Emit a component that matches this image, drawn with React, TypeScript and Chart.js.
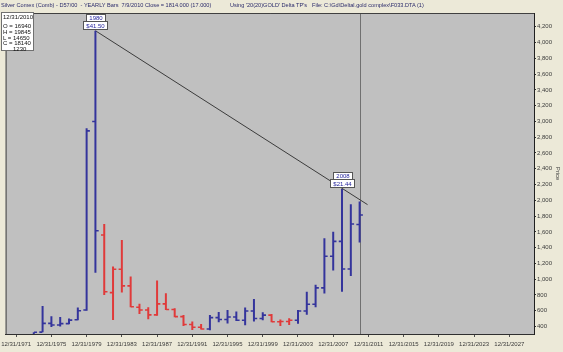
import React, { useEffect, useRef } from 'react';
import { Chart, registerables } from 'chart.js';

Chart.register(...registerables);

// ---- data (prices in cents) ----
const years = [1973, 1974, 1975, 1976, 1977, 1978, 1979, 1980, 1981, 1982, 1983, 1984, 1985, 1986, 1987, 1988, 1989, 1990, 1991, 1992, 1993, 1994, 1995, 1996, 1997, 1998, 1999, 2000, 2001, 2002, 2003, 2004, 2005, 2006, 2007, 2008, 2009, 2010];
const opens = [196, 329, 440, 420, 437, 485, 610, 3000, 1560, 830, 1126, 915, 645, 610, 547, 687, 615, 525, 425, 390, 369, 512, 489, 520, 479, 596, 502, 544, 461, 463, 480, 596, 682, 890, 1290, 1480, 1130, 1694];
const highs = [328, 660, 530, 520, 500, 640, 2913, 4150, 1700, 1160, 1497, 1033, 687, 645, 982, 822, 632, 547, 462, 433, 545, 585, 610, 590, 640, 750, 580, 560, 490, 505, 610, 840, 930, 1520, 1600, 2144, 1950, 1984.5];
const lows = [195, 327, 395, 400, 430, 480, 600, 1083, 800, 484, 830, 645, 560, 493, 535, 610, 518, 408, 357, 363, 352, 455, 437, 469, 416, 462, 480, 455, 405, 420, 435, 550, 645, 820, 1110, 840, 1040, 1465];
const closes = [328, 440, 420, 437, 481, 600, 2880, 1615, 840, 1126, 915, 650, 610, 547, 687, 615, 525, 425, 390, 369, 512, 489, 520, 479, 596, 502, 544, 461, 463, 480, 596, 682, 890, 1290, 1480, 1130, 1699, 1814];
const barColours = ['b', 'b', 'b', 'b', 'b', 'b', 'b', 'b', 'r', 'r', 'r', 'r', 'r', 'r', 'r', 'r', 'r', 'r', 'r', 'r', 'b', 'b', 'b', 'b', 'b', 'b', 'b', 'r', 'r', 'r', 'b', 'b', 'b', 'b', 'b', 'b', 'b', 'b'];

const yTicks = [400, 600, 800, 1000, 1200, 1400, 1600, 1800, 2000, 2200, 2400, 2600, 2800, 3000, 3200, 3400, 3600, 3800, 4000, 4200];
const xTicks = [1971, 1975, 1979, 1983, 1987, 1991, 1995, 1999, 2003, 2007, 2011, 2015, 2019, 2023, 2027];

const trendYears = [1980, 2010.9];
const trendValues = [4150, 1945];

const markedYears = [1980, 2008];
const markedYearLabels = ['1980', '2008'];
const markedPriceLabels = ['$41.50', '$21.44'];

const todayYear = 2010;

const infoLines = ['12/31/2010', 'O = 16940', 'H = 19845', 'L = 14650', 'C = 18140'];
const infoVolume = '1230';
const headerTitle = 'Silver Comex (Comb) - D57/00  - YEARLY Bars  7/9/2010 Close = 1814.000 (17.000)';
const headerUsing = "Using '20(20)GOLD' Delta TP's";
const headerFile = 'File: C:\\Gd\\Deltal.gold complex\\F033.DTA (1)';

const COLOURS: Record<string, string> = { b: '#34349c', r: '#e03a3a' };
const FONT = 'Liberation Sans, Arial, sans-serif';

function buildDatasets() {
  const ds: any[] = [];
  (['b', 'r'] as const).forEach((c) => {
    const range: any[] = [];
    const op: any[] = [];
    const cl: any[] = [];
    years.forEach((yr, i) => {
      if (barColours[i] !== c) return;
      range.push({ x: yr, y: lows[i] }, { x: yr, y: highs[i] }, { x: yr, y: null });
      op.push({ x: yr - 0.2, y: opens[i] });
      cl.push({ x: yr + 0.2, y: closes[i] });
    });
    ds.push({
      type: 'line', data: range, borderColor: COLOURS[c], borderWidth: 2,
      pointRadius: 0, showLine: true, spanGaps: false, fill: false,
    });
    ds.push({
      type: 'scatter', data: op, pointStyle: 'line', pointRadius: 1.5,
      pointBorderWidth: 1.6, pointBorderColor: COLOURS[c], showLine: false,
    });
    ds.push({
      type: 'scatter', data: cl, pointStyle: 'line', pointRadius: 1.5,
      pointBorderWidth: 1.6, pointBorderColor: COLOURS[c], showLine: false,
    });
  });
  ds.push({
    type: 'line',
    data: trendYears.map((x, i) => ({ x, y: trendValues[i] })),
    borderColor: '#3c3c3c', borderWidth: 1, pointRadius: 0, showLine: true, fill: false,
  });
  return ds;
}

const decorPlugin = {
  id: 'decor',
  beforeDraw(chart: any) {
    const { ctx, chartArea: a } = chart;
    ctx.save();
    ctx.fillStyle = '#ece9d8';
    ctx.fillRect(0, 0, chart.width, chart.height);
    ctx.fillStyle = '#c0c0c0';
    ctx.fillRect(a.left, a.top, a.right - a.left, a.bottom - a.top);
    ctx.restore();
  },
  beforeDatasetsDraw(chart: any) {
    const { ctx, chartArea: a, scales } = chart;
    const x = Math.round(scales.x.getPixelForValue(todayYear)) + 0.5;
    ctx.save();
    ctx.strokeStyle = '#707070';
    ctx.lineWidth = 1;
    ctx.beginPath();
    ctx.moveTo(x, a.top);
    ctx.lineTo(x, a.bottom);
    ctx.stroke();
    ctx.strokeStyle = '#404040';
    ctx.beginPath();
    ctx.moveTo(a.left + 0.5, a.bottom);
    ctx.lineTo(a.left + 0.5, a.top + 0.5);
    ctx.lineTo(a.right, a.top + 0.5);
    ctx.stroke();
    ctx.restore();
  },
  afterDatasetsDraw(chart: any) {
    const { ctx, scales } = chart;
    ctx.save();
    ctx.font = `6px ${FONT}`;
    ctx.textAlign = 'center';
    ctx.textBaseline = 'middle';
    markedYears.forEach((yr, k) => {
      const i = years.indexOf(yr);
      const px = scales.x.getPixelForValue(yr);
      const py = scales.y.getPixelForValue(highs[i]);
      const box = (text: string, bottom: number, h: number) => {
        const w = Math.ceil(ctx.measureText(text).width) + 5;
        const left = Math.round(px - w / 2) + 0.5;
        const top = Math.round(bottom - h) + 0.5;
        ctx.fillStyle = '#ffffff';
        ctx.fillRect(left, top, w, h);
        ctx.strokeStyle = '#555555';
        ctx.lineWidth = 1;
        ctx.strokeRect(left, top, w, h);
        ctx.fillStyle = '#1e1e9a';
        ctx.fillText(text, left + w / 2, top + h / 2 + 0.5);
        return top;
      };
      const t = box(markedPriceLabels[k], py - 2, 8);
      box(markedYearLabels[k], t - 0.5, 7);
    });
    ctx.restore();
  },
};

export default function App() {
  const ref = useRef<HTMLCanvasElement>(null);
  useEffect(() => {
    if (!ref.current) return;
    const chart = new Chart(ref.current, {
      type: 'scatter',
      data: { datasets: buildDatasets() },
      plugins: [decorPlugin],
      options: {
        animation: false,
        responsive: false,
        devicePixelRatio: 1,
        layout: { padding: { top: 13, left: 3, right: 0, bottom: 0 } },
        plugins: { legend: { display: false }, tooltip: { enabled: false } },
        scales: {
          x: {
            type: 'linear', position: 'bottom', min: 1969.8, max: 2029.8,
            afterBuildTicks: (s: any) => { s.ticks = xTicks.map((v) => ({ value: v })); },
            afterFit: (s: any) => { s.height = 18; s.paddingLeft = 0; s.paddingRight = 0; },
            ticks: {
              autoSkip: false, maxRotation: 0, padding: 4, color: '#3a3a3a',
              font: { size: 6, family: FONT },
              callback: (v: any) => '12/31/' + v,
            },
            grid: { drawOnChartArea: false, tickLength: 3, color: '#505050' },
            border: { color: '#303030', width: 1 },
          },
          y: {
            type: 'linear', position: 'right', min: 305, max: 4375,
            afterBuildTicks: (s: any) => { s.ticks = yTicks.map((v) => ({ value: v })); },
            afterFit: (s: any) => { s.width = 29; s.paddingTop = 0; s.paddingBottom = 0; },
            ticks: {
              autoSkip: false, padding: 1, color: '#3a3a3a',
              font: { size: 6, family: FONT },
              callback: (v: any) => Number(v).toLocaleString('en-US'),
            },
            grid: { drawOnChartArea: false, tickLength: 2, color: '#303030' },
            border: { color: '#202020', width: 1 },
            title: {
              display: true, text: 'Price', color: '#3a3a3a',
              font: { size: 6, family: FONT }, padding: { top: 2, bottom: 0 },
            },
          },
        },
      } as any,
    });
    return () => chart.destroy();
  }, []);

  const small: React.CSSProperties = {
    position: 'absolute', fontFamily: FONT, fontSize: '5.6px', lineHeight: '6px',
    color: '#2b2b6b', whiteSpace: 'pre',
  };

  return (
    <div style={{ position: 'fixed', left: 0, top: 0, width: 563, height: 352, background: '#ece9d8', overflow: 'hidden' }}>
      <canvas ref={ref} width={563} height={352} style={{ display: 'block', width: 563, height: 352 }} />
      <div style={{ ...small, left: 1, top: 2 }}>{headerTitle}</div>
      <div style={{ ...small, left: 230, top: 2 }}>{headerUsing}</div>
      <div style={{ ...small, left: 312, top: 2 }}>{headerFile}</div>
      <div style={{
        position: 'absolute', left: 1, top: 12, width: 33, height: 39, background: '#ffffff',
        border: '1px solid #707070', boxSizing: 'border-box', fontFamily: FONT, fontSize: '6px',
        lineHeight: '6px', color: '#111111', padding: '1px 0 0 1px',
      }}>
        <div style={{ height: 9 }}>{infoLines[0]}</div>
        {infoLines.slice(1).map((t) => (<div key={t} style={{ height: 5.8 }}>{t}</div>))}
        <div style={{ paddingLeft: 10 }}>{infoVolume}</div>
      </div>
    </div>
  );
}
